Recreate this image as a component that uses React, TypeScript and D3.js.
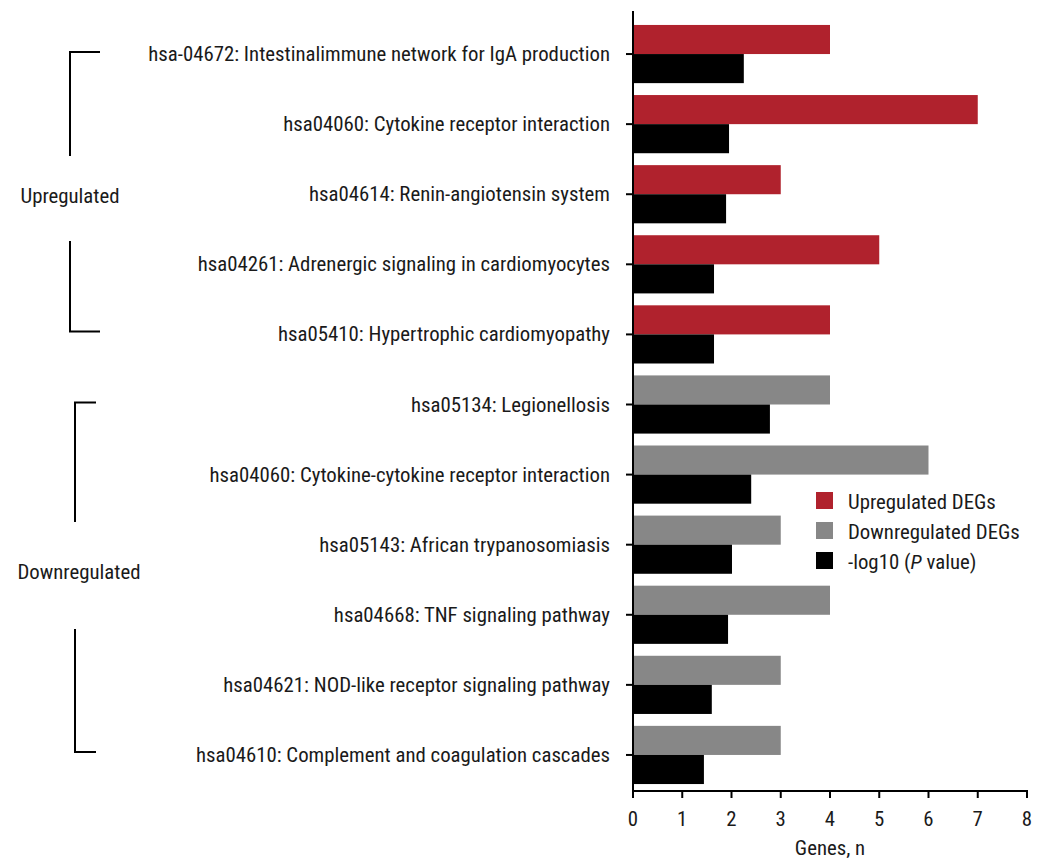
import React from "react";
import * as d3 from "d3";

// KEGG pathways, top to bottom
const pathways = [
  "hsa-04672: Intestinalimmune network for IgA production",
  "hsa04060: Cytokine receptor interaction",
  "hsa04614: Renin-angiotensin system",
  "hsa04261: Adrenergic signaling in cardiomyocytes",
  "hsa05410: Hypertrophic cardiomyopathy",
  "hsa05134: Legionellosis",
  "hsa04060: Cytokine-cytokine receptor interaction",
  "hsa05143: African trypanosomiasis",
  "hsa04668: TNF signaling pathway",
  "hsa04621: NOD-like receptor signaling pathway",
  "hsa04610: Complement and coagulation cascades",
];
// gene counts: first five pathways are upregulated, the rest downregulated
const upGenes = [4, 7, 3, 5, 4];
const downGenes = [4, 6, 3, 4, 3, 3];
const negLogP = [2.25, 1.95, 1.89, 1.645, 1.645, 2.78, 2.4, 2.01, 1.93, 1.6, 1.44];
const xTicks = [0, 1, 2, 3, 4, 5, 6, 7, 8];
const groups = [
  { name: "Upregulated", first: 0, last: 4 },
  { name: "Downregulated", first: 5, last: 10 },
];

const RED = "#B0222D";
const GRAY = "#878787";
const BLACK = "#000000";
const FONT = "Roboto";
const FS = 20.8;

const legendItems = [
  { color: RED, label: <>Upregulated DEGs</> },
  { color: GRAY, label: <>Downregulated DEGs</> },
  { color: BLACK, label: <>-log10 (<tspan fontStyle="italic">P</tspan> value)</> },
];

export default function App() {
  const width = 1042;
  const height = 863;
  const x0 = 633;
  const x = d3.scaleLinear().domain([0, 8]).range([x0, 1027]);
  const y = d3
    .scaleBand<number>()
    .domain(pathways.map((_, i) => i))
    .range([19, 790])
    .paddingInner(0.17)
    .paddingOuter(0.085);
  const sub = d3.scaleBand<number>().domain([0, 1]).range([0, y.bandwidth()]);
  const axisY = 791;
  const center = (i: number) => (y(i) as number) + y.bandwidth() / 2;

  const genes = [...upGenes, ...downGenes];
  const textStyle = { fontStretch: "condensed" as const };

  return (
    <svg width={width} height={height} style={{ position: "absolute", left: 0, top: 0 }}>
      <rect width={width} height={height} fill="#fff" />
      <g fontFamily={FONT} fontSize={FS} fill="#1a1a1a" style={textStyle}>
        {/* bars */}
        {pathways.map((_, i) => (
          <g key={i}>
            <rect
              x={x(0) + 1}
              y={(y(i) as number) + (sub(0) as number)}
              width={x(genes[i]) - x(0) - 1}
              height={sub.bandwidth()}
              fill={i < upGenes.length ? RED : GRAY}
            />
            <rect
              x={x(0) + 1}
              y={(y(i) as number) + (sub(1) as number)}
              width={x(negLogP[i]) - x(0) - 1}
              height={sub.bandwidth()}
              fill={BLACK}
            />
          </g>
        ))}

        {/* y axis */}
        <line x1={x0} x2={x0} y1={11} y2={axisY} stroke="#000" strokeWidth={2} />
        {pathways.map((p, i) => (
          <g key={p + i}>
            <line x1={x0 - 7} x2={x0} y1={center(i)} y2={center(i)} stroke="#000" strokeWidth={2} />
            <text x={x0 - 23} y={center(i) + 7} textAnchor="end">
              {p}
            </text>
          </g>
        ))}

        {/* x axis */}
        <line x1={x0 - 1} x2={x(8) + 1} y1={axisY} y2={axisY} stroke="#000" strokeWidth={2} />
        {xTicks.map((t) => (
          <g key={t}>
            <line x1={x(t)} x2={x(t)} y1={axisY} y2={axisY + 7} stroke="#000" strokeWidth={2} />
            <text x={x(t)} y={826} textAnchor="middle">
              {t}
            </text>
          </g>
        ))}
        <text x={(x(0) + x(8)) / 2} y={855} textAnchor="middle">
          Genes, n
        </text>

        {/* group brackets */}
        {groups.map((g, gi) => {
          const top = center(g.first) - 2;
          const bot = center(g.last) - 3;
          const bx = gi === 0 ? 70 : 75;
          const tipX = gi === 0 ? 100 : 96;
          const mid = gi === 0 ? 196 : 572;
          const gapTop = gi === 0 ? 156 : 522;
          const gapBot = gi === 0 ? 241 : 629;
          return (
            <g key={g.name}>
              <path
                d={`M${tipX},${top}H${bx}V${gapTop}M${bx},${gapBot}V${bot}H${tipX}`}
                fill="none"
                stroke="#000"
                strokeWidth={2}
              />
              <text x={gi === 0 ? 70 : 79} y={mid + 7} textAnchor="middle">
                {g.name}
              </text>
            </g>
          );
        })}

        {/* legend */}
        {legendItems.map((it, i) => (
          <g key={i} transform={`translate(816,${492 + i * 30})`}>
            <rect width={17} height={17} fill={it.color} />
            <text x={32} y={17}>
              {it.label}
            </text>
          </g>
        ))}
      </g>
    </svg>
  );
}
